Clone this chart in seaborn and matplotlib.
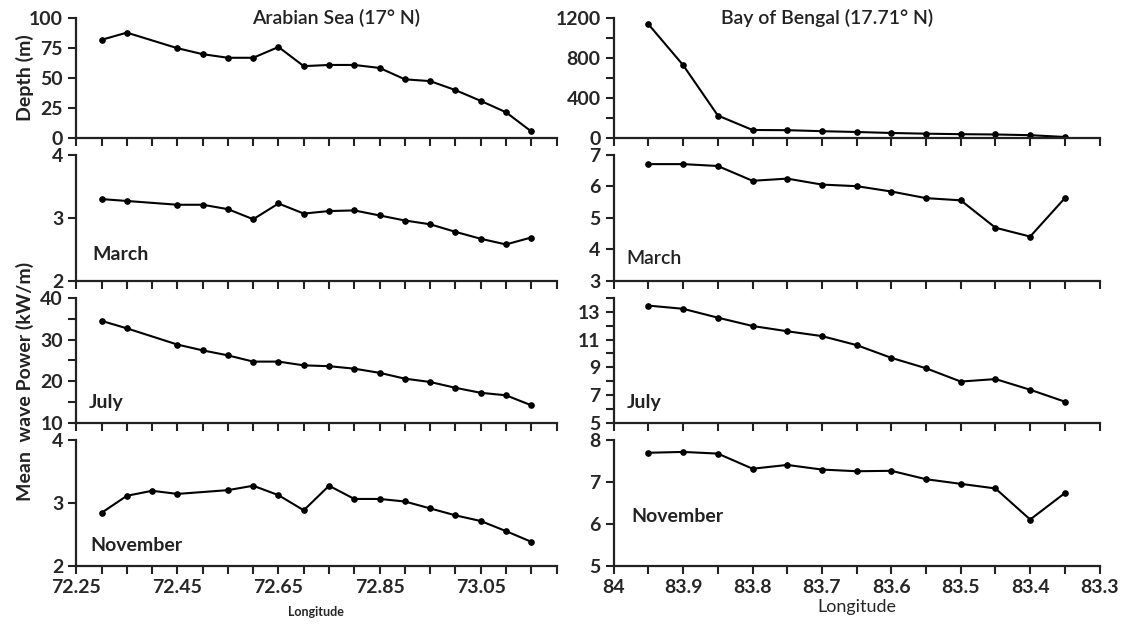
import numpy as np
import matplotlib
matplotlib.use('Agg')
import matplotlib.pyplot as plt
import seaborn as sns
from matplotlib.ticker import MultipleLocator

# Arabian Sea (17 N)
as_lon = [72.30, 72.35, 72.45, 72.50, 72.55, 72.60, 72.65, 72.70, 72.75,
          72.80, 72.85, 72.90, 72.95, 73.00, 73.05, 73.10, 73.15]
as_lon_nov = [72.30, 72.35, 72.40, 72.45, 72.55, 72.60, 72.65, 72.70, 72.75,
              72.80, 72.85, 72.90, 72.95, 73.00, 73.05, 73.10, 73.15]
as_depth = [82, 88, 75, 70, 67, 67, 76, 60, 61, 61, 58.5, 49, 47.5, 40, 31, 21.5, 5.5]
as_march = [3.30, 3.27, 3.21, 3.21, 3.14, 2.98, 3.23, 3.07, 3.11, 3.12, 3.04,
            2.96, 2.90, 2.78, 2.67, 2.58, 2.69]
as_july = [34.5, 32.7, 28.8, 27.4, 26.2, 24.7, 24.7, 23.8, 23.6, 23.0, 22.0,
           20.6, 19.8, 18.4, 17.2, 16.6, 14.2]
as_nov = [2.84, 3.11, 3.19, 3.14, 3.20, 3.27, 3.12, 2.88, 3.27, 3.06, 3.06,
          3.02, 2.91, 2.80, 2.71, 2.55, 2.38]

# Bay of Bengal (17.71 N)
bob_lon = [83.95, 83.90, 83.85, 83.80, 83.75, 83.70, 83.65, 83.60, 83.55,
           83.50, 83.45, 83.40, 83.35]
bob_depth = [1140, 730, 225, 80, 78, 68, 60, 50, 43, 38, 35, 28, 10]
bob_march = [6.71, 6.71, 6.65, 6.18, 6.25, 6.06, 6.01, 5.84, 5.63, 5.56, 4.69, 4.41, 5.63]
bob_july = [13.45, 13.22, 12.58, 11.98, 11.60, 11.25, 10.60, 9.68, 8.93, 7.97, 8.15, 7.38, 6.52]
bob_nov = [7.69, 7.71, 7.67, 7.31, 7.40, 7.29, 7.25, 7.26, 7.06, 6.95, 6.84, 6.10, 6.73]

as_ticks = ['72.25', '72.45', '72.65', '72.85', '73.05']
bob_ticks = ['84', '83.9', '83.8', '83.7', '83.6', '83.5', '83.4', '83.3']

sns.set_style('ticks')
plt.rcParams['font.family'] = ['Lato', 'DejaVu Sans']

fig = plt.figure(figsize=(11.22, 6.3), dpi=100)

rows = [(0.781, 0.971), (0.554, 0.754), (0.329, 0.527), (0.102, 0.302)]
left_x = (0.068, 0.496)
right_x = (0.547, 0.980)

left_data = [(as_lon, as_depth, (0, 100), 25, None, ''),
             (as_lon, as_march, (2, 4), 1, None, 'March'),
             (as_lon, as_july, (10, 40), 10, 5, 'July'),
             (as_lon_nov, as_nov, (2, 4), 1, None, 'November')]
right_data = [(bob_lon, bob_depth, (0, 1200), 400, 200, ''),
              (bob_lon, bob_march, (3, 7), 1, None, 'March'),
              (bob_lon, bob_july, (5, 14), 2, 1, 'July'),
              (bob_lon, bob_nov, (5, 8), 1, None, 'November')]
left_month_pos = [None, (0.033, 0.21), (0.025, 0.16), (0.03, 0.16)]
right_month_pos = [None, (0.027, 0.18), (0.027, 0.16), (0.037, 0.39)]


def style_axis(ax, ylim, major, minor, yticks):
    ax.set_ylim(*ylim)
    ax.set_yticks(yticks)
    if minor:
        ax.yaxis.set_minor_locator(MultipleLocator(minor))
    sns.despine(ax=ax)
    for s in ['left', 'bottom']:
        ax.spines[s].set_linewidth(1.6)
        ax.spines[s].set_color('#222222')
    ax.tick_params(axis='both', which='both', direction='out', length=6,
                   width=1.5, color='#222222', labelsize=14)
    ax.set_xlabel('')
    ax.set_ylabel('')


for i, (bottom, top) in enumerate(rows):
    # left column
    ax = fig.add_axes([left_x[0], bottom, left_x[1] - left_x[0], top - bottom])
    lon, vals, ylim, major, minor, month = left_data[i]
    sns.lineplot(x=lon, y=vals, ax=ax, color='black', marker='o', markersize=4,
                 linewidth=1.5, markeredgecolor='black')
    yt = np.arange(ylim[0], ylim[1] + 0.001, major)
    style_axis(ax, ylim, major, minor, yt)
    ax.set_yticklabels([f'{v:g}' for v in yt], fontweight='bold')
    ax.set_xlim(72.25, 73.20)
    xt = np.round(np.arange(72.25, 73.2001, 0.05), 2)
    ax.set_xticks(xt)
    if i == 3:
        ax.set_xticklabels([f'{v:.2f}' if f'{v:.2f}' in as_ticks else '' for v in xt],
                           fontweight='bold')
        ax.set_xlabel('Longitude', fontsize=9, fontweight='bold', labelpad=7)
    else:
        ax.set_xticklabels([])
    if month:
        mx, my = left_month_pos[i]
        ax.text(mx, my, month, transform=ax.transAxes, fontsize=14,
                fontweight='bold', color='#222222', va='center')
    if i == 0:
        ax.text(0.54, 1.0, 'Arabian Sea (17\u00b0 N)', transform=ax.transAxes,
                fontsize=14, fontweight='semibold', ha='center', va='center',
                color='#222222')

    # right column
    ax = fig.add_axes([right_x[0], bottom, right_x[1] - right_x[0], top - bottom])
    lon, vals, ylim, major, minor, month = right_data[i]
    sns.lineplot(x=lon, y=vals, ax=ax, color='black', marker='o', markersize=4,
                 linewidth=1.5, markeredgecolor='black')
    yt = np.arange(ylim[0], ylim[1] + 0.001, major)
    if ylim == (5, 14):
        yt = np.arange(5, 14, 2)
    style_axis(ax, ylim, major, minor, yt)
    ax.set_yticklabels([f'{v:g}' for v in yt], fontweight='bold')
    ax.set_xlim(84.0, 83.3)
    xt = np.round(np.arange(84.0, 83.2999, -0.05), 2)
    ax.set_xticks(xt)
    if i == 3:
        ax.set_xticklabels([f'{v:g}' if f'{v:g}' in bob_ticks else '' for v in xt],
                           fontweight='bold')
        ax.set_xlabel('Longitude', fontsize=13, labelpad=2)
    else:
        ax.set_xticklabels([])
    if month:
        mx, my = right_month_pos[i]
        ax.text(mx, my, month, transform=ax.transAxes, fontsize=14,
                fontweight='semibold' if i == 1 else 'bold', color='#222222',
                va='center')
    if i == 0:
        ax.text(0.44, 1.0, 'Bay of Bengal (17.71\u00b0 N)', transform=ax.transAxes,
                fontsize=14, fontweight='semibold', ha='center', va='center',
                color='#222222')

fig.text(0.022, 0.876, 'Depth (m)', rotation=90, fontsize=14, fontweight='bold',
         ha='center', va='center', color='#222222')
fig.text(0.022, 0.395, 'Mean  wave Power (kW/m)', rotation=90, fontsize=14,
         fontweight='bold', ha='center', va='center', color='#222222')

plt.savefig('out.png', dpi=100)
